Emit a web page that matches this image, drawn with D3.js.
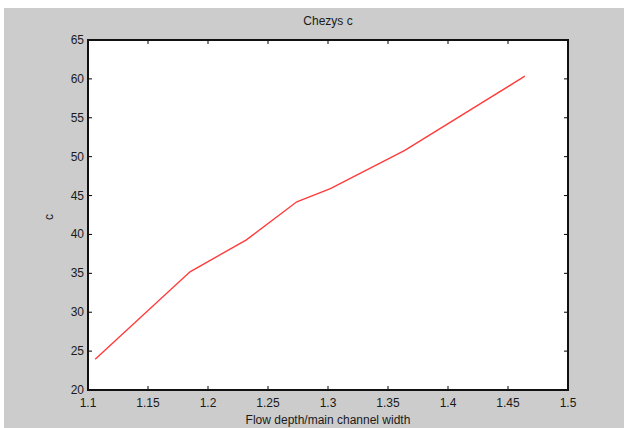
<!DOCTYPE html>
<html><head><meta charset="utf-8">
<script src="https://cdn.jsdelivr.net/npm/d3@7"></script>
<style>html,body{margin:0;padding:0;background:#fff;}svg{display:block;}</style>
</head><body>
<svg id="c" width="624" height="428"></svg>
<script>
const xValues = [1.106, 1.185, 1.232, 1.274, 1.302, 1.364, 1.464];
const cValues = [23.95, 35.2, 39.3, 44.2, 45.9, 50.8, 60.35];
const xTicks = [1.1, 1.15, 1.2, 1.25, 1.3, 1.35, 1.4, 1.45, 1.5];
const yTicks = [20, 25, 30, 35, 40, 45, 50, 55, 60, 65];
const xTickLabels = ["1.1","1.15","1.2","1.25","1.3","1.35","1.4","1.45","1.5"];
const yTickLabels = ["20","25","30","35","40","45","50","55","60","65"];
const title = "Chezys c";
const xLabel = "Flow depth/main channel width";
const yLabel = "c";

const svg = d3.select("#c");
const font = "'Liberation Sans', Arial, sans-serif";
svg.append("rect").attr("x",4).attr("y",8).attr("width",620).attr("height",420).attr("fill","#cccccc");

const L=88, R=568, T=40, B=390;
const x = d3.scaleLinear().domain([1.1,1.5]).range([L,R]);
const y = d3.scaleLinear().domain([20,65]).range([B,T]);

svg.append("rect").attr("x",L).attr("y",T).attr("width",R-L).attr("height",B-T).attr("fill","#fff");

const tl = 4;
const g = svg.append("g").attr("stroke","#000").attr("stroke-width",1);
xTicks.forEach(v=>{
  g.append("line").attr("x1",x(v)).attr("x2",x(v)).attr("y1",B).attr("y2",B-tl);
  g.append("line").attr("x1",x(v)).attr("x2",x(v)).attr("y1",T).attr("y2",T+tl);
});
yTicks.forEach(v=>{
  g.append("line").attr("y1",y(v)).attr("y2",y(v)).attr("x1",L).attr("x2",L+tl);
  g.append("line").attr("y1",y(v)).attr("y2",y(v)).attr("x1",R).attr("x2",R-tl);
});
svg.append("rect").attr("x",L).attr("y",T).attr("width",R-L).attr("height",B-T)
  .attr("fill","none").attr("stroke","#111").attr("stroke-width",2);

const line = d3.line().x((d,i)=>x(xValues[i])).y(d=>y(d));
svg.append("path").datum(cValues).attr("d",line).attr("fill","none")
  .attr("stroke","#ff3b3b").attr("stroke-width",1.4);

const tx = svg.append("g").attr("font-family",font).attr("font-size",12).attr("fill","#1a1a1a");
xTicks.forEach((v,i)=>{
  tx.append("text").attr("x",x(v)).attr("y",B+17).attr("text-anchor","middle").text(xTickLabels[i]);
});
yTicks.forEach((v,i)=>{
  tx.append("text").attr("x",L-4).attr("y",y(v)+4).attr("text-anchor","end").text(yTickLabels[i]);
});
tx.append("text").attr("x",(L+R)/2).attr("y",25).attr("text-anchor","middle").text(title);
tx.append("text").attr("x",(L+R)/2).attr("y",424).attr("text-anchor","middle").text(xLabel);
tx.append("text").attr("transform","translate(53,217) rotate(-90)").attr("text-anchor","middle").text(yLabel);
</script>
</body></html>
